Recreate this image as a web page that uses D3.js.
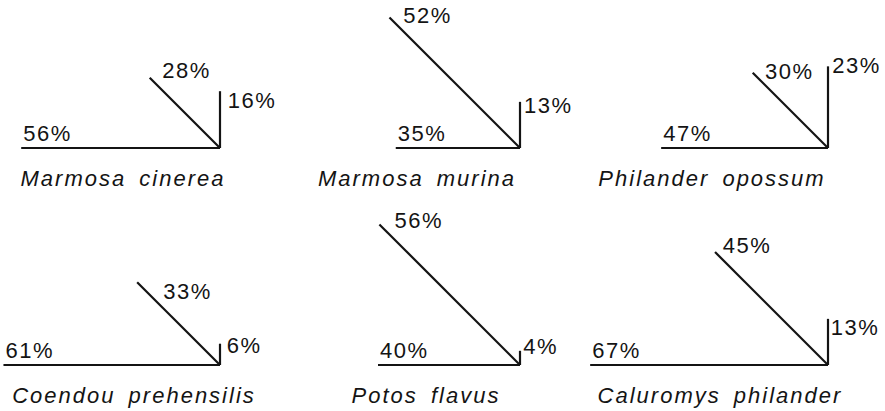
<!DOCTYPE html>
<html>
<head>
<meta charset="utf-8">
<script src="https://cdn.jsdelivr.net/npm/d3@7"></script>
<style>
  html, body { margin: 0; padding: 0; background: #fff; }
</style>
</head>
<body>
<script>
// percentages per species: left (horizontal), up-left (diagonal), up (vertical)
const species = [
  "Marmosa cinerea", "Marmosa murina", "Philander opossum",
  "Coendou prehensilis", "Potos flavus", "Caluromys philander"
];
const horizontal = [56, 35, 47, 61, 40, 67];
const diagonal = [28, 52, 30, 33, 56, 45];
const vertical = [16, 13, 23, 6, 4, 13];

const width = 885;
const height = 411;

// panel placement: origin of the three arms, centre of the name, label nudges
const layout = [
  { ox: 220, oy: 148, nx: 123, dg: [12.6, 0.6], vt: [7.7, 16.5] },
  { ox: 520, oy: 148, nx: 417, dg: [13.8, 5.8], vt: [4, 11.3] },
  { ox: 828, oy: 148, nx: 712, dg: [12.3, 6.6], vt: [4.3, 7] },
  { ox: 220, oy: 365, nx: 134, dg: [26, 17], vt: [6.7, 9.3] },
  { ox: 520, oy: 365, nx: 426, dg: [15, 4], vt: [3.3, 3] },
  { ox: 828, oy: 365, nx: 720, dg: [7.7, 0.7], vt: [2.7, 16] }
];

const len = d3.scaleLinear().domain([0, 100]).range([0, 355]);

const svg = d3.select("body")
  .append("svg")
  .attr("width", width)
  .attr("height", height);

svg.append("rect")
  .attr("width", "100%")
  .attr("height", "100%")
  .attr("fill", "white");

const ink = "#141414";
const font = "'Liberation Sans', Arial, sans-serif";

species.forEach(function (name, i) {
  const L = layout[i];
  const g = svg.append("g").attr("transform", "translate(" + L.ox + "," + L.oy + ")");

  const h = len(horizontal[i]);
  const d = len(diagonal[i]) / Math.SQRT2;
  const v = len(vertical[i]);

  const arms = [
    [[-h, 0], [0, 0]],
    [[-d, -d], [0, 0]],
    [[0, -v], [0, 0]]
  ];

  g.selectAll("path.arm")
    .data(arms)
    .join("path")
    .attr("class", "arm")
    .attr("fill", "none")
    .attr("stroke", ink)
    .attr("stroke-width", 2.2)
    .attr("d", d3.line());

  const labelStyle = "font-family: " + font + "; font-size: 22px; letter-spacing: 1.5px";

  g.append("text")
    .attr("x", -h + 2)
    .attr("y", -7)
    .attr("fill", ink)
    .attr("style", labelStyle)
    .text(horizontal[i] + "%");

  g.append("text")
    .attr("x", -d + L.dg[0])
    .attr("y", -d + L.dg[1])
    .attr("fill", ink)
    .attr("style", labelStyle)
    .text(diagonal[i] + "%");

  g.append("text")
    .attr("x", L.vt[0])
    .attr("y", -v + L.vt[1])
    .attr("fill", ink)
    .attr("style", labelStyle)
    .text(vertical[i] + "%");

  svg.append("text")
    .attr("x", L.nx)
    .attr("y", L.oy + 37.5)
    .attr("text-anchor", "middle")
    .attr("fill", ink)
    .attr("style", "font-family: " + font + "; font-style: italic; font-size: 22px; letter-spacing: 2px; word-spacing: 5px")
    .text(name);
});
</script>
</body>
</html>
